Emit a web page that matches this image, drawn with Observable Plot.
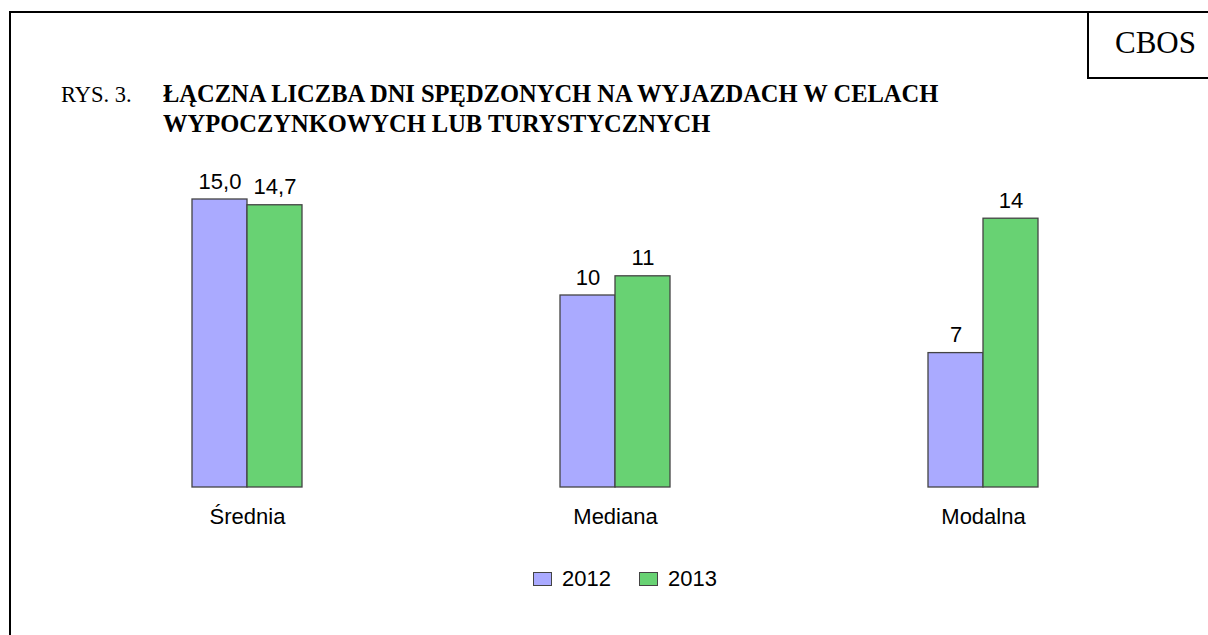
<!DOCTYPE html>
<html>
<head>
<meta charset="utf-8">
<script src="https://cdn.jsdelivr.net/npm/d3@7"></script>
<script src="https://cdn.jsdelivr.net/npm/@observablehq/plot@0.6"></script>
<style>
  html, body { margin: 0; padding: 0; background: #fff; overflow: hidden; }
  #root { position: relative; width: 1208px; height: 635px; overflow: hidden; }
  .abs { position: absolute; white-space: nowrap; }
  #frame { left: 9px; top: 11px; width: 1400px; height: 700px; border-top: 2px solid #000; border-left: 2px solid #000; }
  #cbos { left: 1087px; top: 11px; width: 200px; height: 64px; border: 2px solid #000; }
  #cbosText { left: 1115px; top: 27px; font: 31px/31px "Liberation Serif", "Times New Roman", serif; }
  #rys { left: 61px; top: 80px; font: 22.5px/30px "Liberation Serif", "Times New Roman", serif; }
  #title { left: 163px; top: 79px; font: bold 24.5px/30px "Liberation Serif", "Times New Roman", serif; }
  #chart { left: 0; top: 150px; }
  .leg { font: 22px/22px "Liberation Sans", Arial, sans-serif; }
  .sw { position: absolute; width: 19px; height: 14px; border: 1px solid #444; box-sizing: border-box; }
</style>
</head>
<body>
<div id="root">
  <div id="frame" class="abs"></div>
  <div id="cbos" class="abs"></div>
  <div id="cbosText" class="abs">CBOS</div>
  <div id="rys" class="abs">RYS. 3.</div>
  <div id="title" class="abs">ŁĄCZNA LICZBA DNI SPĘDZONYCH NA WYJAZDACH W CELACH<br>WYPOCZYNKOWYCH LUB TURYSTYCZNYCH</div>
  <div id="chart" class="abs"></div>
  <div id="legend"></div>
</div>
<script>
const categories = ["Średnia", "Mediana", "Modalna"];
const years = ["2012", "2013"];
const values2012 = [15.0, 10, 7];
const values2013 = [14.7, 11, 14];
const labels2012 = ["15,0", "10", "7"];
const labels2013 = ["14,7", "11", "14"];
const colors = ["#AAAAFF", "#68D273"];

const rows = [];
categories.forEach((c, i) => {
  rows.push({cat: c, year: years[0], value: values2012[i], label: labels2012[i]});
  rows.push({cat: c, year: years[1], value: values2013[i], label: labels2013[i]});
});

const chart = Plot.plot({
  width: 1208,
  height: 400,
  marginTop: 49,
  marginBottom: 63,
  marginLeft: 63,
  marginRight: 41,
  style: {fontFamily: "'Liberation Sans', Arial, sans-serif", fontSize: "22px", color: "#000", background: "transparent"},
  fx: {domain: categories, padding: 0, label: null, axis: "bottom", tickSize: 0, tickPadding: 21},
  x: {domain: years, paddingInner: 0, paddingOuter: 2.33, axis: null},
  y: {domain: [0, 15], axis: null},
  color: {domain: years, range: colors},
  marks: [
    Plot.barY(rows, {fx: "cat", x: "year", y: "value", fill: "year", stroke: "#444", strokeWidth: 1.3}),
    Plot.text(rows, {fx: "cat", x: "year", y: "value", text: "label", lineAnchor: "bottom", dy: -11, fill: "#000", fontSize: 22})
  ]
});
document.getElementById("chart").appendChild(chart);

// legend
const legend = document.getElementById("legend");
const legItems = [
  {year: years[0], color: colors[0], sx: 533, tx: 562},
  {year: years[1], color: colors[1], sx: 639, tx: 668}
];
legItems.forEach(it => {
  const sw = document.createElement("div");
  sw.className = "sw";
  sw.style.left = it.sx + "px";
  sw.style.top = "572px";
  sw.style.background = it.color;
  legend.appendChild(sw);
  const t = document.createElement("div");
  t.className = "abs leg";
  t.style.left = it.tx + "px";
  t.style.top = "568px";
  t.textContent = it.year;
  legend.appendChild(t);
});
</script>
</body>
</html>
